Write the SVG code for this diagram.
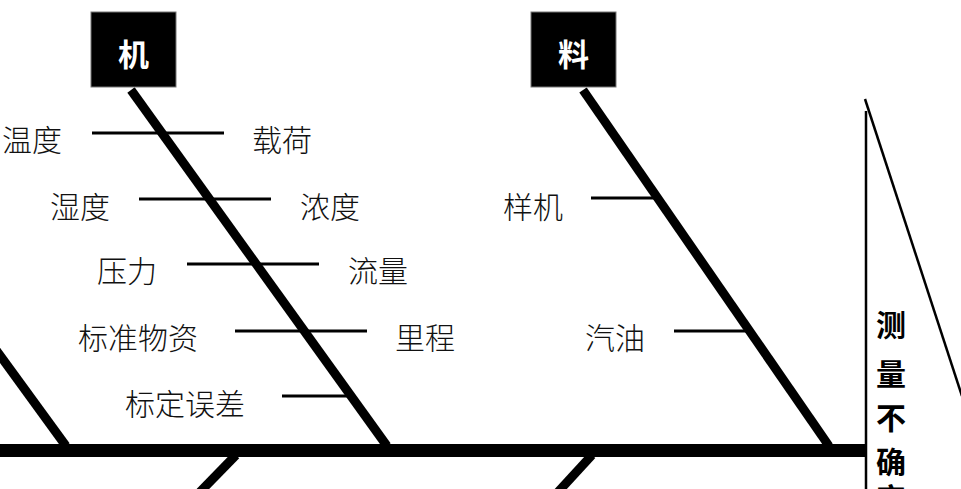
<svg xmlns="http://www.w3.org/2000/svg" width="961" height="489" viewBox="0 0 961 489">
<style>
.lbl{font-family:"Noto Sans CJK SC","Noto Sans CJK JP",sans-serif;font-size:30px;font-weight:300;fill:#111}
.cat{font-family:"Noto Sans CJK SC","Noto Sans CJK JP",sans-serif;font-size:31px;font-weight:700;fill:#fff;text-anchor:middle}
.head{font-family:"Noto Sans CJK SC","Noto Sans CJK JP",sans-serif;font-size:30px;font-weight:700;fill:#000;text-anchor:middle}
.box{fill:#000;stroke:#777;stroke-width:1}
.bone{stroke:#000;stroke-width:9;stroke-linecap:butt;fill:none}
.sub{stroke:#000;stroke-width:3;fill:none}
.thin{stroke:#000;stroke-width:2.5;fill:none}
</style>
<rect width="961" height="489" fill="#fff"/>
<g id="connectors">
  <line class="bone" x1="0" y1="450.5" x2="866" y2="450.5" style="stroke-width:13"/>
  <line class="bone" x1="131" y1="90" x2="387" y2="446"/>
  <line class="bone" x1="583" y1="90" x2="829" y2="446"/>
  <line class="bone" x1="-4" y1="350" x2="66" y2="446"/>
  <line class="bone" x1="236" y1="455" x2="200" y2="492"/>
  <line class="bone" x1="592" y1="455" x2="558" y2="492"/>
  <line class="sub" x1="92" y1="133" x2="224" y2="133"/>
  <line class="sub" x1="139" y1="199" x2="271" y2="199"/>
  <line class="sub" x1="187" y1="264" x2="319" y2="264"/>
  <line class="sub" x1="235" y1="331" x2="367" y2="331"/>
  <line class="sub" x1="282" y1="396" x2="350" y2="396"/>
  <line class="sub" x1="591" y1="198" x2="655" y2="198"/>
  <line class="sub" x1="674" y1="331" x2="746" y2="331"/>
</g>
<g id="cat-ji">
  <rect class="box" x="91" y="12" width="85" height="75"/>
  <text class="cat" x="133.5" y="66">机</text>
</g>
<g id="cat-liao">
  <rect class="box" x="531" y="12" width="85" height="75"/>
  <text class="cat" x="573.5" y="66">料</text>
</g>
<g id="head">
  <line class="thin" x1="866" y1="111" x2="866" y2="489"/>
  <line class="thin" x1="865" y1="99" x2="962" y2="396"/>
  <text class="head"><tspan x="891" y="336">测</tspan><tspan x="891" y="385">量</tspan><tspan x="891" y="429">不</tspan><tspan x="891" y="473">确</tspan><tspan x="891" y="510">定</tspan></text>
</g>
<g id="causes-ji">
  <text class="lbl" x="2" y="151">温度</text>
  <text class="lbl" x="252" y="151">载荷</text>
  <text class="lbl" x="50" y="218">湿度</text>
  <text class="lbl" x="300" y="218">浓度</text>
  <text class="lbl" x="97" y="282">压力</text>
  <text class="lbl" x="348" y="282">流量</text>
  <text class="lbl" x="78" y="349">标准物资</text>
  <text class="lbl" x="395" y="349">里程</text>
  <text class="lbl" x="125" y="415">标定误差</text>
</g>
<g id="causes-liao">
  <text class="lbl" x="503" y="218">样机</text>
  <text class="lbl" x="585" y="349">汽油</text>
</g>
</svg>
